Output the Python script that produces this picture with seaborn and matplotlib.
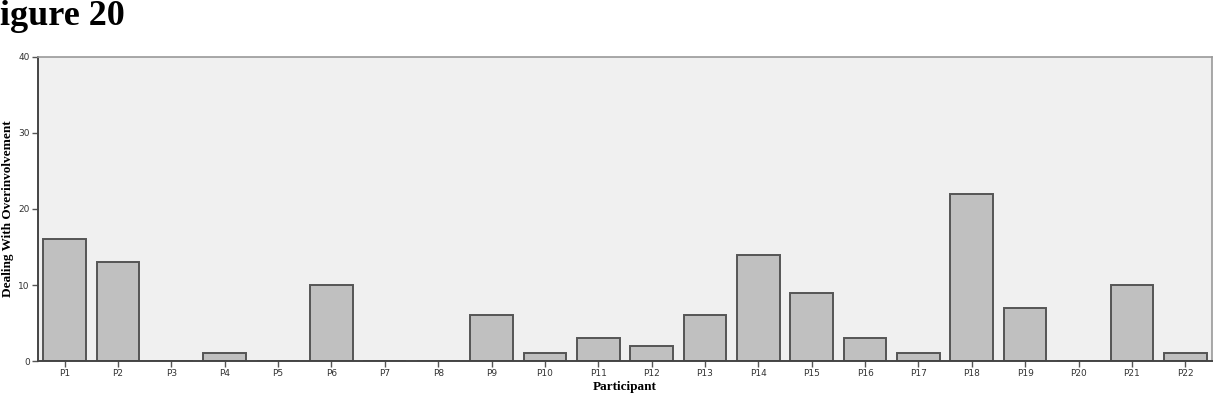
import matplotlib
matplotlib.use("Agg")
import matplotlib.pyplot as plt
import seaborn as sns
import pandas as pd

participants = [f"P{i}" for i in range(1, 23)]
values = [16, 13, 0, 1, 0, 10, 0, 0, 6, 1, 3, 2, 6, 14, 9, 3, 1, 22, 7, 0, 10, 1]
y_ticks = [0, 10, 20, 30, 40]

df = pd.DataFrame({"Participant": participants, "Value": values})

sns.set_style("white")
fig = plt.figure(figsize=(12.18, 3.93), dpi=100)
ax = fig.add_axes([0.0312, 0.0814, 0.9638, 0.7736])
ax.set_facecolor("#f0f0f0")

sns.barplot(data=df, x="Participant", y="Value", color="#c0c0c0",
            edgecolor="#555555", linewidth=1.4, width=0.8, ax=ax,
            saturation=1, errorbar=None)

ax.set_ylim(0, 40)
ax.set_xlim(-0.5, 21.5)
ax.set_yticks(y_ticks)
ax.set_yticklabels([str(t) for t in y_ticks])
ax.tick_params(axis="both", which="both", direction="out", length=4, width=1,
               color="#555555", labelsize=6.5, labelcolor="#333333", pad=2,
               left=True, bottom=True)
for s in ["left", "bottom"]:
    ax.spines[s].set_color("#444444")
    ax.spines[s].set_linewidth(1.4)
for s in ["top", "right"]:
    ax.spines[s].set_color("#999999")
    ax.spines[s].set_linewidth(1.2)

serif = ["Liberation Serif", "DejaVu Serif"]
ax.set_ylabel("Dealing With Overinvolvement", family=serif, fontweight="bold",
              fontsize=9.5, labelpad=3, color="black")
ax.set_xlabel("Participant", family=serif, fontweight="bold", fontsize=9.5,
              labelpad=2, color="black")

fig.text(0.0, 1.0, "igure 20", family=serif, fontweight="bold",
         fontsize=26, ha="left", va="top", color="black")

fig.savefig("out.png", dpi=100)
